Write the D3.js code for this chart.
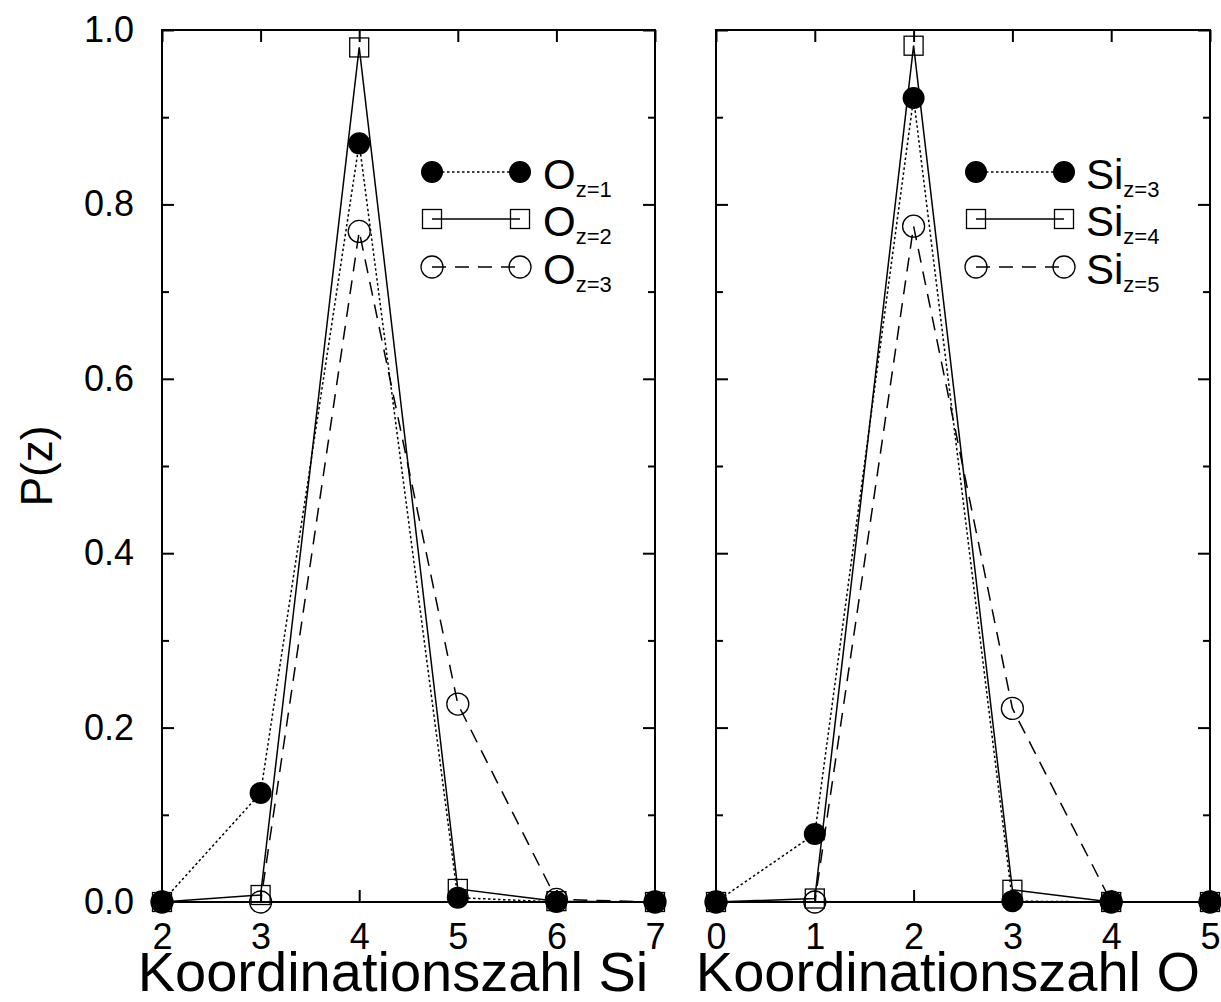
<!DOCTYPE html>
<html><head><meta charset="utf-8">
<script src="https://cdn.jsdelivr.net/npm/d3@7"></script>
<style>body{margin:0;background:#fff} svg text{font-family:"Liberation Sans",Arial,Helvetica,sans-serif;fill:#000}</style>
</head><body><svg id="c" width="1221" height="1002"></svg>
<script>
// ---- data ----
const xSi = [2, 3, 4, 5, 6, 7];
const O_z1 = [0.0, 0.125, 0.870, 0.005, 0.0, 0.0];
const O_z2 = [0.0, 0.008, 0.980, 0.015, 0.001, 0.0];
const O_z3 = [0.0, 0.0, 0.769, 0.227, 0.003, 0.0];

const xO = [0, 1, 2, 3, 4, 5];
const Si_z3 = [0.0, 0.078, 0.922, 0.001, 0.0, 0.0];
const Si_z4 = [0.0, 0.004, 0.982, 0.014, 0.0, 0.0];
const Si_z5 = [0.0, 0.0, 0.775, 0.222, 0.0, 0.0];

const yMajor = [0, 0.2, 0.4, 0.6, 0.8, 1.0];
const yMinor = [0.1, 0.3, 0.5, 0.7, 0.9];
const xTicksSi = [2, 3, 4, 5, 6, 7];
const xTicksO = [0, 1, 2, 3, 4, 5];
const leftNames = ["O", "O", "O"], leftSubs = ["z=1", "z=2", "z=3"];
const rightNames = ["Si", "Si", "Si"], rightSubs = ["z=3", "z=4", "z=5"];
const yTitle = "P(z)";
const xTitleLeft = "Koordinationszahl Si", xTitleRight = "Koordinationszahl O";

// ---- drawing ----
const svg = d3.select("#c");
const y = d3.scaleLinear().domain([0, 1]).range([902, 30]);

const styles = [
  {marker: "filled", dash: "2.5,2.5"},
  {marker: "square", dash: null},
  {marker: "open", dash: "14,9"}
];

function drawMarker(g, type, cx, cy) {
  if (type === "filled") {
    g.append("circle").attr("cx", cx).attr("cy", cy).attr("r", 11).attr("fill", "#000");
  } else if (type === "open") {
    g.append("circle").attr("cx", cx).attr("cy", cy).attr("r", 11).attr("fill", "none")
      .attr("stroke", "#000").attr("stroke-width", 1.3);
  } else {
    g.append("rect").attr("x", cx - 9.5).attr("y", cy - 9.5).attr("width", 19).attr("height", 19)
      .attr("fill", "none").attr("stroke", "#000").attr("stroke-width", 1.3);
  }
}

function panel(xs, seriesList, xDomain, xRange, xTicks, names, subs, legX1, legX2, legTextX, xTitle, titleX, showYLabels) {
  const x = d3.scaleLinear().domain(xDomain).range(xRange);
  const g = svg.append("g");

  // frame
  g.append("rect").attr("x", xRange[0]).attr("y", 30).attr("width", xRange[1] - xRange[0]).attr("height", 872)
    .attr("fill", "none").attr("stroke", "#000").attr("stroke-width", 2);

  // y axes (inward ticks)
  const yl = g.append("g").attr("transform", `translate(${xRange[0]},0)`)
    .call(d3.axisLeft(y).tickValues(yMajor).tickSize(-12).tickPadding(28).tickFormat(showYLabels ? d3.format(".1f") : ""));
  yl.append("g").call(d3.axisLeft(y).tickValues(yMinor).tickSize(-7).tickFormat(""));
  const yr = g.append("g").attr("transform", `translate(${xRange[1]},0)`)
    .call(d3.axisRight(y).tickValues(yMajor).tickSize(-12).tickFormat(""));
  yr.append("g").call(d3.axisRight(y).tickValues(yMinor).tickSize(-7).tickFormat(""));

  // x axes
  g.append("g").attr("transform", "translate(0,902)")
    .call(d3.axisBottom(x).tickValues(xTicks).tickSize(-12).tickPadding(21).tickFormat(d3.format("d")));
  g.append("g").attr("transform", "translate(0,30)")
    .call(d3.axisTop(x).tickValues(xTicks).tickSize(-12).tickFormat(""));

  g.selectAll(".domain").remove();
  g.selectAll(".tick line").attr("stroke", "#000").attr("stroke-width", 2);
  g.selectAll(".tick text").attr("font-size", 36).attr("font-family", '"Liberation Sans",Arial,sans-serif').attr("fill", "#000");

  // series lines
  const line = d3.line().x((d, i) => x(xs[i])).y(d => y(d));
  const order = [1, 2, 0];
  order.forEach(k => {
    g.append("path").attr("d", line(seriesList[k])).attr("fill", "none").attr("stroke", "#000")
      .attr("stroke-width", 1.5).attr("stroke-dasharray", styles[k].dash);
  });
  order.forEach(k => {
    const mg = g.append("g");
    seriesList[k].forEach((v, i) => drawMarker(mg, styles[k].marker, x(xs[i]), y(v)));
  });

  // legend
  const rows = [172, 219, 267];
  rows.forEach((ry, k) => {
    const lg = g.append("g");
    lg.append("line").attr("x1", legX1).attr("x2", legX2).attr("y1", ry).attr("y2", ry)
      .attr("stroke", "#000").attr("stroke-width", 1.5).attr("stroke-dasharray", styles[k].dash);
    drawMarker(lg, styles[k].marker, legX1, ry);
    drawMarker(lg, styles[k].marker, legX2, ry);
    const t = lg.append("text").attr("x", legTextX).attr("y", ry + 17).attr("font-size", 42);
    t.append("tspan").text(names[k]);
    t.append("tspan").attr("font-size", 22).attr("dy", 8).text(subs[k]);
  });

  // x title
  g.append("text").attr("x", titleX).attr("y", 991).attr("text-anchor", "middle")
    .attr("font-size", 56).text(xTitle);
}

panel(xSi, [O_z1, O_z2, O_z3], [2, 7], [162, 655], xTicksSi, leftNames, leftSubs, 432, 520, 543, xTitleLeft, 393, true);
panel(xO, [Si_z3, Si_z4, Si_z5], [0, 5], [716, 1210], xTicksO, rightNames, rightSubs, 976, 1064, 1086, xTitleRight, 948, false);

svg.append("text").attr("transform", "translate(52,466) rotate(-90)").attr("text-anchor", "middle")
  .attr("font-size", 44).text(yTitle);
</script></body></html>
